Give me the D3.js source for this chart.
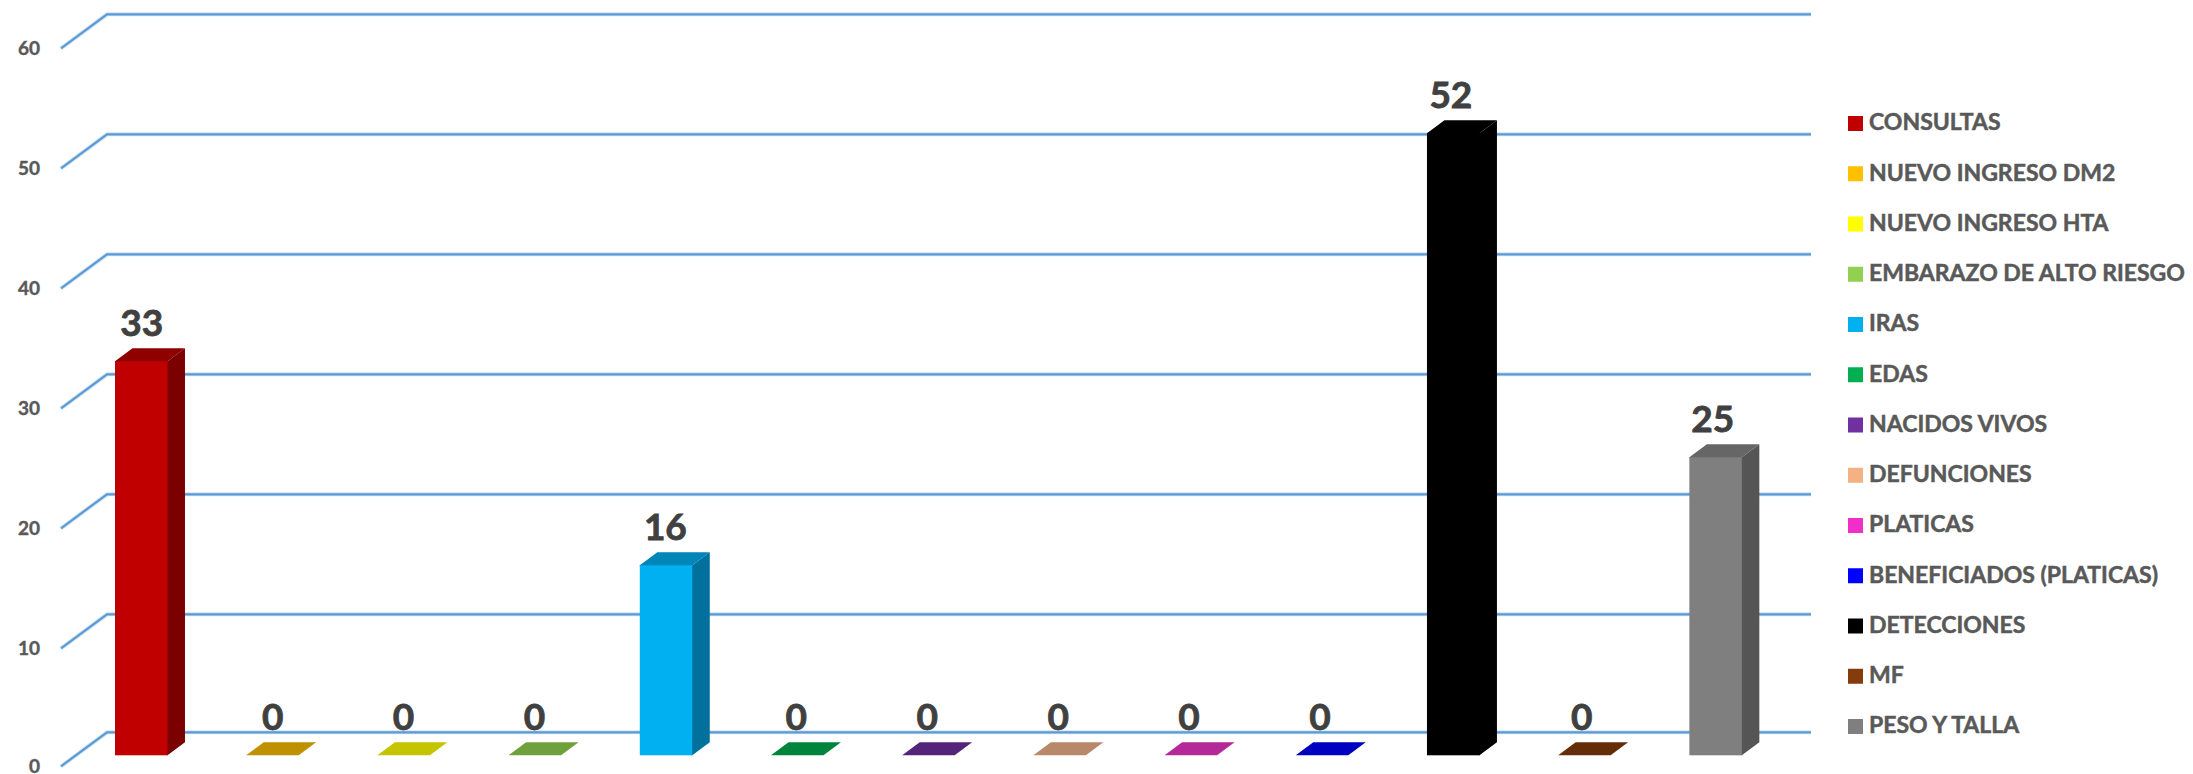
<!DOCTYPE html>
<html><head><meta charset="utf-8">
<script src="https://cdn.jsdelivr.net/npm/d3@7"></script>
<style>html,body{margin:0;padding:0;background:#fff;overflow:hidden}svg{display:block}text{font-family:Lato,"Open Sans",sans-serif;font-weight:700}</style>
</head><body><svg id="c" width="2193" height="774"></svg>
<script>
const categories=["CONSULTAS","NUEVO INGRESO DM2","NUEVO INGRESO HTA","EMBARAZO DE ALTO RIESGO","IRAS","EDAS","NACIDOS VIVOS","DEFUNCIONES","PLATICAS","BENEFICIADOS (PLATICAS)","DETECCIONES","MF","PESO Y TALLA"];
const values=[33,0,0,0,16,0,0,0,0,0,52,0,25];
const legendColors=["#c00000","#ffc000","#ffff00","#92d050","#00b0f0","#00b050","#7030a0","#f4b183","#f02ec8","#0000ff","#000000","#843c0c","#7f7f7f"];
const topColors=["#8f0000","#bf9000","#c4c400","#70a03c","#0085b8","#00843c","#54247a","#b8886a","#b52898","#0000c0","#000000","#642d08","#666666"];
const sideColors=["#7b0000","#a07800","#a3a300","#5d8632","#00709c","#006e32","#461e66","#9a7158","#97217f","#0000a0","#000000","#532507","#555555"];
const tickValues=[0,10,20,30,40,50,60];

const svg=d3.select("#c");
// back wall scale; the chart's lowest interval is slightly compressed in the reference
const y=d3.scaleLinear().domain([0,10,60]).range([732.3,614.3,14.3]);
const depth={gx:46,gy:34,bx:17.5,by:13,barFront:23};
const yFront=v=>y(v)+depth.gy;
const yBar=v=>y(v)+depth.barFront;
const gridX=d3.scaleLinear().domain([0,1]).range([107,1811]);
const x=d3.scaleBand().domain(categories).range([75.64,1781.2]).paddingInner(0.6).paddingOuter(0.3);
const labelX=d3.scalePoint().domain(categories).range([141.7,1712.7]);

// gridlines: pale halo under a solid core
const gridPath=d=>d3.line()([[gridX(0)-depth.gx,yFront(d)],[gridX(0),y(d)],[gridX(1),y(d)]]);
svg.append("g").selectAll("path").data(tickValues).join("path")
 .attr("fill","none").attr("stroke","#bdd7ee").attr("stroke-width",4).attr("stroke-opacity",0.7).attr("d",gridPath);
svg.append("g").selectAll("path").data(tickValues).join("path")
 .attr("fill","none").attr("stroke","#5b9bd5").attr("stroke-width",2.2).attr("d",gridPath);

// y axis labels
const axis=svg.append("g").attr("transform","translate(40,0.5)")
 .call(d3.axisLeft(d3.scaleLinear().domain(y.domain()).range(y.range().map(r=>r+depth.gy))).tickValues(tickValues).tickSize(0).tickPadding(0));
axis.select(".domain").remove();
axis.selectAll("text").attr("fill","#595959").attr("stroke","#595959").attr("stroke-width",0.4)
 .style("font-size","19px").style("font-family","Lato,'Open Sans',sans-serif").style("font-weight","700");

// 3D bars: side and top run 1px under the front face so no seam shows
const data=categories.map((c,i)=>({c,v:values[i],i}));
const bars=svg.append("g").selectAll("g").data(data).join("g");
const pts=a=>a.map(p=>p.join(",")).join(" ");
bars.filter(d=>d.v>0).append("polygon").attr("fill",d=>sideColors[d.i]).attr("points",d=>{
  const r=x(d.c)+x.bandwidth(),t=yBar(d.v),b=yBar(0);
  return pts([[r-1,t],[r,t],[r+depth.bx,t-depth.by],[r+depth.bx,b-depth.by],[r,b],[r-1,b]]);});
bars.append("polygon").attr("fill",d=>topColors[d.i]).attr("points",d=>{
  const l=x(d.c),r=l+x.bandwidth(),t=yBar(d.v);
  const under=d.v>0?1:0;
  return pts([[l,t+under],[l,t],[l+depth.bx,t-depth.by],[r+depth.bx,t-depth.by],[r,t],[r,t+under]]);});
bars.append("rect").attr("x",d=>x(d.c)).attr("width",x.bandwidth())
 .attr("y",d=>yBar(d.v)).attr("height",d=>yBar(0)-yBar(d.v))
 .attr("fill",d=>legendColors[d.i]);
bars.append("text").attr("x",d=>labelX(d.c)).attr("y",d=>yBar(d.v)-38)
 .attr("dy","0.35em").attr("text-anchor","middle").attr("fill","#404040").attr("stroke","#404040").attr("stroke-width",0.8)
 .style("font-size","37px").text(d=>d.v);

// legend
const ly=d3.scalePoint().domain(categories).range([123.5,726.5]);
const leg=svg.append("g").selectAll("g").data(data).join("g").attr("transform",d=>`translate(1848,${ly(d.c)})`);
leg.append("rect").attr("x",0).attr("y",-7.5).attr("width",15).attr("height",15).attr("fill",d=>legendColors[d.i]);
leg.append("text").attr("x",21).attr("dy","0.3em").attr("fill","#595959").attr("stroke","#595959").attr("stroke-width",0.5)
 .style("font-size","23px").text(d=>d.c);
</script></body></html>
